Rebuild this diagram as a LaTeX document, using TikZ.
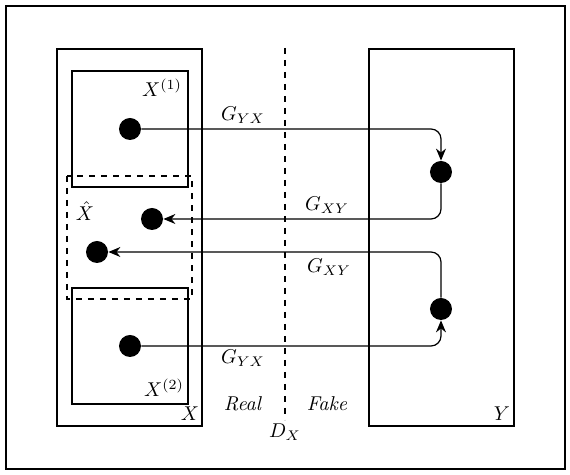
\documentclass[tikz,border=0pt]{standalone}
\usetikzlibrary{arrows.meta}
\begin{document}
\begin{tikzpicture}[x=0.5pt, y=-0.5pt]

\tikzstyle{dot}=[circle, fill=black, inner sep=0pt, minimum size=11pt];
\tikzstyle{e}=[-{Stealth[length=6pt, width=5pt]}, semithick, rounded corners=5pt];
\tikzstyle{box}=[draw, semithick];

\useasboundingbox (0, 0) rectangle (570, 475);
\draw[semithick] (6, 6) rectangle (565, 469);

% domain X and its parts
\draw[box] (57, 49) rectangle (202, 426);
\draw[box] (72, 71) rectangle (188, 187);
\draw[box] (72, 288) rectangle (188, 404);
\draw[semithick, dashed] (67, 176) rectangle (192, 299);

% domain Y
\draw[box] (369, 49) rectangle (514, 426);

% discriminator
\draw[semithick, dashed] (285, 48) -- (285, 420);

\node (x_1) at (162, 88) {$X^{(1)}$};
\node (x_2) at (164, 388) {$X^{(2)}$};
\node (x_hat) at (85, 211) {$\hat{X}$};
\node (x_lab) at (190, 414) {$X$};
\node (y_lab) at (502, 414) {$Y$};
\node (d_x) at (285, 432) {$D_X$};
\node (real) at (243, 404) {\textit{Real}};
\node (fake) at (327, 404) {\textit{Fake}};

\node[dot] (a_1) at (130, 129) {};
\node[dot] (a_hat) at (152, 219) {};
\node[dot] (b_hat) at (97, 252) {};
\node[dot] (b_2) at (130, 346) {};
\node[dot] (y_a) at (441, 172) {};
\node[dot] (y_b) at (441, 309) {};

\draw[e] (a_1) -| (y_a);
\draw[e] (y_a) |- (a_hat);
\draw[e] (y_b) |- (b_hat);
\draw[e] (b_2) -| (y_b);

\node (g_1) at (243, 115) {$G_{YX}$};
\node (g_2) at (327, 205) {$G_{XY}$};
\node (g_3) at (329, 267) {$G_{XY}$};
\node (g_4) at (243, 358) {$G_{YX}$};
\end{tikzpicture}
\end{document}
